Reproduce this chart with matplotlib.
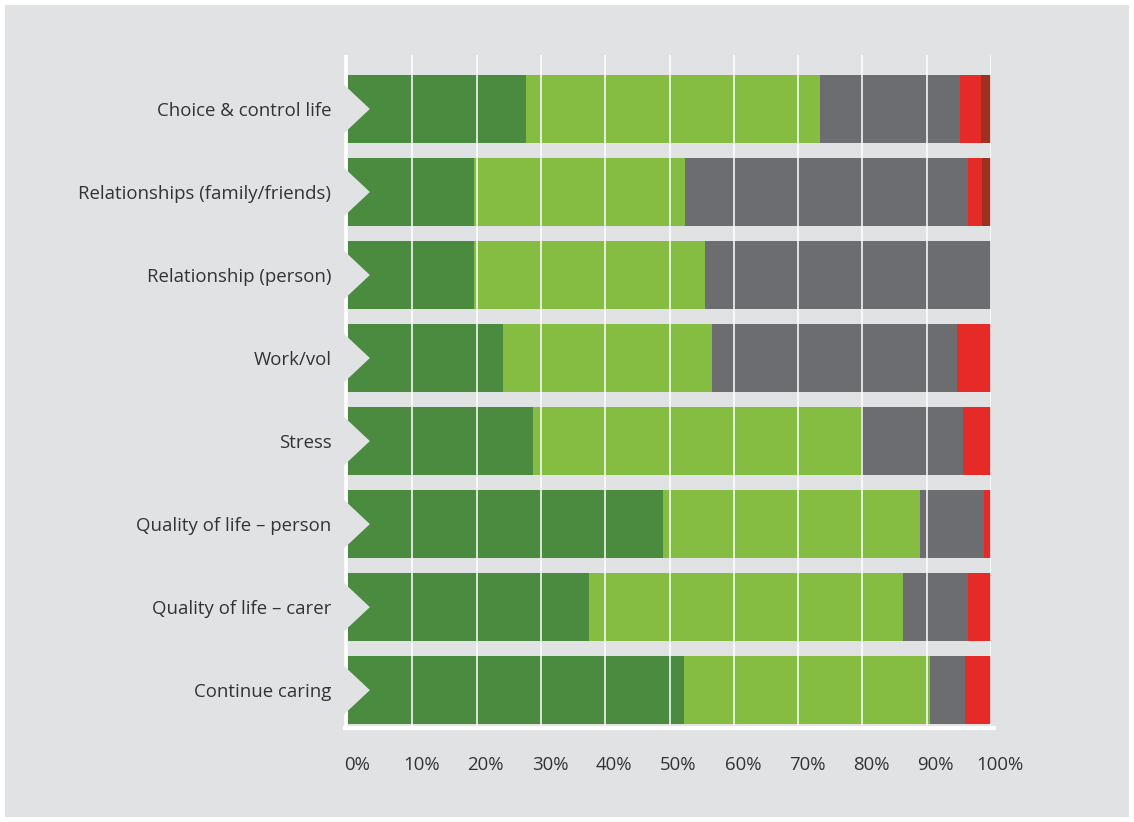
import numpy as np
import matplotlib.pyplot as plt
import matplotlib.transforms as mtransforms
from matplotlib.patches import Rectangle, Polygon

plt.rcParams['font.family'] = ['Open Sans', 'DejaVu Sans']

# outcome areas, top to bottom
labels = ['Choice & control life', 'Relationships (family/friends)',
          'Relationship (person)', 'Work/vol', 'Stress',
          'Quality of life \u2013 person', 'Quality of life \u2013 carer',
          'Continue caring']

# share of responses (%) per answer band, left to right
much_better = [27.7, 19.6, 19.6, 24.1, 28.8, 49.0, 37.5, 52.3]
better = [45.7, 32.8, 35.9, 32.5, 51.0, 40.0, 48.8, 38.2]
no_change = [21.8, 44.0, 44.5, 38.1, 15.8, 9.9, 10.1, 5.5]
worse = [3.2, 2.2, 0.0, 5.3, 4.4, 1.1, 3.6, 4.0]
much_worse = [1.6, 1.4, 0.0, 0.0, 0.0, 0.0, 0.0, 0.0]

series = [much_better, better, no_change, worse, much_worse]
colours = ['#4a8b3f', '#84bd41', '#6c6d71', '#e52a27', '#9e3022']

bg = '#e1e2e4'
text_col = '#333333'

fig = plt.figure(figsize=(11.34, 8.22), dpi=100, facecolor='white')
fig.patches.append(Rectangle((5 / 1134, 5 / 822), 1124 / 1134, 812 / 822,
                             transform=fig.transFigure, facecolor=bg,
                             edgecolor='none', zorder=-10))

ax = fig.add_axes([348 / 1134, 1 - 730 / 822, 643 / 1134, 675 / 822])
ax.patch.set_alpha(0)

y = np.arange(len(labels))
left = np.zeros(len(labels))
for vals, col in zip(series, colours):
    ax.barh(y, vals, left=left, height=0.82, color=col, linewidth=0, zorder=2)
    left += np.array(vals)

ax.set_xlim(0, 100)
ax.set_ylim(7.48, -0.65)

# white grid over the bars
for gx in range(10, 101, 10):
    ax.plot([gx, gx], [7.48, -0.65], color='white', lw=1.1, zorder=3,
            solid_capstyle='butt')
# left axis line and baseline
ax.plot([-0.35, -0.35], [7.48, -0.65], color='white', lw=2.6, zorder=1,
        clip_on=False, solid_capstyle='butt')
ax.plot([-0.7, 100.8], [7.45, 7.45], color='white', lw=3.0, zorder=4,
        clip_on=False, solid_capstyle='butt')

# arrow notch cut into the start of each bar
for yi in y:
    notch = Polygon([(-1.0, yi - 0.32), (3.4, yi), (-1.0, yi + 0.32)],
                    closed=True, facecolor=bg, edgecolor='none',
                    zorder=5, clip_on=False)
    ax.add_patch(notch)

for s in ax.spines.values():
    s.set_visible(False)

ax.set_yticks(y)
ax.set_yticklabels(labels, fontsize=13.4, color=text_col)
ax.tick_params(axis='y', length=0, pad=12)

ticks = np.arange(0, 101, 10)
ax.set_xticks(ticks)
ax.set_xticklabels([f'{t}%' for t in ticks], fontsize=13.4, color=text_col)
ax.tick_params(axis='x', length=0, pad=19)
shift = mtransforms.ScaledTranslation(9 / 100, 0, fig.dpi_scale_trans)
for lab in ax.get_xticklabels():
    lab.set_transform(lab.get_transform() + shift)

fig.savefig('out.png', dpi=100, facecolor='white')
